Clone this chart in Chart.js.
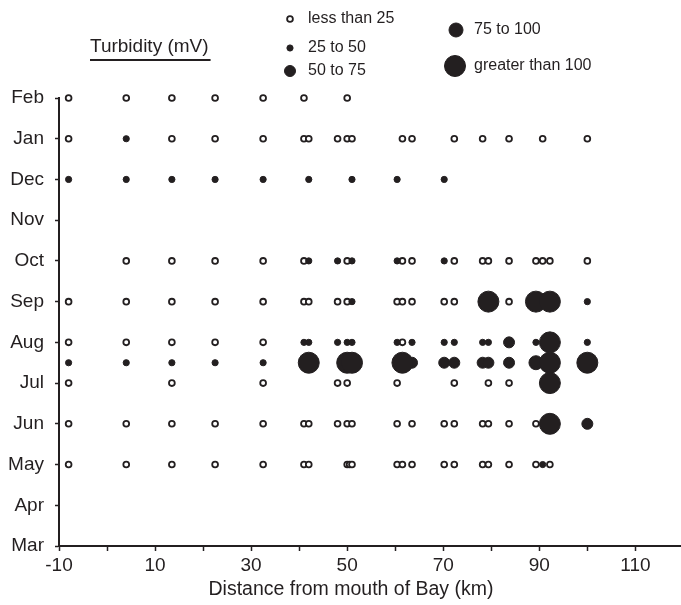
<!DOCTYPE html>
<html>
<head>
<meta charset="utf-8">
<script src="https://cdn.jsdelivr.net/npm/chart.js@4.4.1/dist/chart.umd.min.js"></script>
<style>
html,body{margin:0;padding:0;background:#fff;}
#c{display:block;}
</style>
</head>
<body>
<canvas id="c" width="681" height="605"></canvas>
<script>
// Month categories on the y axis (Mar = 0 ... Feb = 11)
const months = ['Mar','Apr','May','Jun','Jul','Aug','Sep','Oct','Nov','Dec','Jan','Feb'];
// x tick positions (every 10 km) and the ones that carry labels
const xTicks = [-10, 0, 10, 20, 30, 40, 50, 60, 70, 80, 90, 100, 110];
const xTickLabels = [-10, 10, 30, 50, 70, 90, 110];
const legendLabels = ['less than 25', '25 to 50', '50 to 75', '75 to 100', 'greater than 100'];

// Turbidity class: less than 25 mV  [distance km, month index]
const lessThan25 = [
  [-8,11],[4,11],[13.5,11],[22.5,11],[32.5,11],[41,11],[50,11],
  [-8,10],[13.5,10],[22.5,10],[32.5,10],[41,10],[42,10],[48,10],[50,10],[51,10],[61.5,10],[63.5,10],[72.3,10],[78.2,10],[83.7,10],[90.7,10],[100,10],
  [4,7],[13.5,7],[22.5,7],[32.5,7],[41,7],[50,7],[61.5,7],[63.5,7],[72.3,7],[78.2,7],[79.4,7],[83.7,7],[89.3,7],[90.7,7],[92.2,7],[100,7],
  [-8,6],[4,6],[13.5,6],[22.5,6],[32.5,6],[41,6],[42,6],[48,6],[50,6],[60.4,6],[61.5,6],[63.5,6],[70.2,6],[72.3,6],[83.7,6],
  [-8,5],[4,5],[13.5,5],[22.5,5],[32.5,5],[61.5,5],
  [-8,4],[13.5,4],[32.5,4],[48,4],[50,4],[60.4,4],[72.3,4],[79.4,4],[83.7,4],
  [-8,3],[4,3],[13.5,3],[22.5,3],[32.5,3],[41,3],[42,3],[48,3],[50,3],[51,3],[60.4,3],[63.5,3],[70.2,3],[72.3,3],[78.2,3],[79.4,3],[83.7,3],[89.3,3],
  [-8,2],[4,2],[13.5,2],[22.5,2],[32.5,2],[41,2],[42,2],[50,2],[50.5,2],[51,2],[60.4,2],[61.5,2],[63.5,2],[70.2,2],[72.3,2],[78.2,2],[79.4,2],[83.7,2],[89.3,2],[92.2,2]
];
// 25 to 50 mV
const from25to50 = [
  [4,10],
  [-8,9],[4,9],[13.5,9],[22.5,9],[32.5,9],[42,9],[51,9],[60.4,9],[70.2,9],
  [42,7],[48,7],[51,7],[60.4,7],[70.2,7],
  [51,6],[100,6],
  [41,5],[42,5],[48,5],[50,5],[51,5],[60.4,5],[63.5,5],[70.2,5],[72.3,5],[78.2,5],[79.4,5],[89.3,5],[100,5],
  [-8,4.5],[4,4.5],[13.5,4.5],[22.5,4.5],[32.5,4.5],
  [90.7,2]
];
// 50 to 75 mV
const from50to75 = [
  [83.7,5],
  [63.5,4.5],[70.2,4.5],[72.3,4.5],[78.2,4.5],[79.4,4.5],[83.7,4.5],
  [100,3]
];
// 75 to 100 mV
const from75to100 = [
  [89.3,4.5]
];
// greater than 100 mV
const over100 = [
  [79.4,6],[89.3,6],[92.2,6],
  [92.2,5],
  [42,4.5],[50,4.5],[51,4.5],[61.5,4.5],[92.2,4.5],[100,4.5],
  [92.2,4],
  [92.2,3]
];

const INK = '#231f20';
const FONT = "'Liberation Sans', Arial, Helvetica, sans-serif";
const toPts = arr => arr.map(p => ({x: p[0], y: p[1]}));

const classStyles = [
  {radius: 2.9, fill: '#ffffff', border: 1.8},
  {radius: 3.1, fill: INK, border: 1},
  {radius: 5.5, fill: INK, border: 1},
  {radius: 7, fill: INK, border: 1},
  {radius: 10.5, fill: INK, border: 1}
];
const classData = [lessThan25, from25to50, from50to75, from75to100, over100];

const datasets = classData.map((d, i) => ({
  label: legendLabels[i],
  data: toPts(d),
  pointRadius: classStyles[i].radius,
  pointHoverRadius: classStyles[i].radius,
  pointBackgroundColor: classStyles[i].fill,
  pointBorderColor: INK,
  pointBorderWidth: classStyles[i].border,
  showLine: false,
  clip: false,
  order: 5 - i
}));

// Custom legend + axis title drawn on the canvas
const legendPos = [
  {mx: 290, my: 19, tx: 308},
  {mx: 290, my: 48, tx: 308},
  {mx: 290, my: 71, tx: 308},
  {mx: 456, my: 30, tx: 474},
  {mx: 455, my: 66, tx: 474}
];
const extrasPlugin = {
  id: 'extras',
  afterDraw(chart) {
    const ctx = chart.ctx;
    ctx.save();
    ctx.fillStyle = INK;
    ctx.strokeStyle = INK;
    // Legend title
    ctx.font = '19px ' + FONT;
    ctx.textBaseline = 'middle';
    ctx.textAlign = 'left';
    ctx.fillText('Turbidity (mV)', 90, 47);
    const w = ctx.measureText('Turbidity (mV)').width;
    ctx.lineWidth = 2;
    ctx.beginPath();
    ctx.moveTo(90, 60);
    ctx.lineTo(90 + w + 2, 60);
    ctx.stroke();
    // Legend entries
    ctx.font = '16px ' + FONT;
    legendLabels.forEach((lab, i) => {
      const s = classStyles[i], p = legendPos[i];
      ctx.beginPath();
      ctx.arc(p.mx, p.my, s.radius, 0, Math.PI * 2);
      ctx.fillStyle = s.fill;
      ctx.fill();
      ctx.lineWidth = s.border;
      ctx.strokeStyle = INK;
      ctx.stroke();
      ctx.fillStyle = INK;
      ctx.fillText(lab, p.tx, p.my);
    });
    // X axis title
    ctx.font = '19.5px ' + FONT;
    ctx.textAlign = 'center';
    ctx.fillText('Distance from mouth of Bay (km)', 351, 590);
    ctx.restore();
  }
};

new Chart(document.getElementById('c'), {
  type: 'scatter',
  data: {datasets},
  options: {
    responsive: false,
    animation: false,
    devicePixelRatio: 1,
    layout: {autoPadding: false, padding: {top: 98, right: 0, left: 0, bottom: 0}},
    plugins: {legend: {display: false}, tooltip: {enabled: false}},
    scales: {
      x: {
        type: 'linear',
        min: -10,
        max: 119.5,
        afterBuildTicks: s => { s.ticks = xTicks.map(v => ({value: v})); },
        afterFit: s => { s.height = 59; s.paddingLeft = 0; s.paddingRight = 0; },
        ticks: {
          includeBounds: false,
          stepSize: 10,
          autoSkip: false,
          maxRotation: 0,
          color: INK,
          font: {family: FONT, size: 19},
          padding: 3,
          callback: v => xTickLabels.includes(Math.round(v)) ? String(Math.round(v)) : ''
        },
        grid: {drawOnChartArea: false, drawTicks: true, tickLength: 5, tickColor: INK, tickWidth: 1.5},
        border: {display: true, color: INK, width: 2}
      },
      y: {
        type: 'linear',
        min: 0,
        max: 11,
        afterFit: s => { s.width = 59; },
        ticks: {
          stepSize: 1,
          autoSkip: false,
          color: INK,
          font: {family: FONT, size: 19},
          padding: 11,
          callback: v => months[Math.round(v)]
        },
        grid: {drawOnChartArea: false, drawTicks: true, tickLength: 4, tickColor: INK, tickWidth: 1.5},
        border: {display: true, color: INK, width: 2}
      }
    }
  },
  plugins: [extrasPlugin]
});
</script>
</body>
</html>
